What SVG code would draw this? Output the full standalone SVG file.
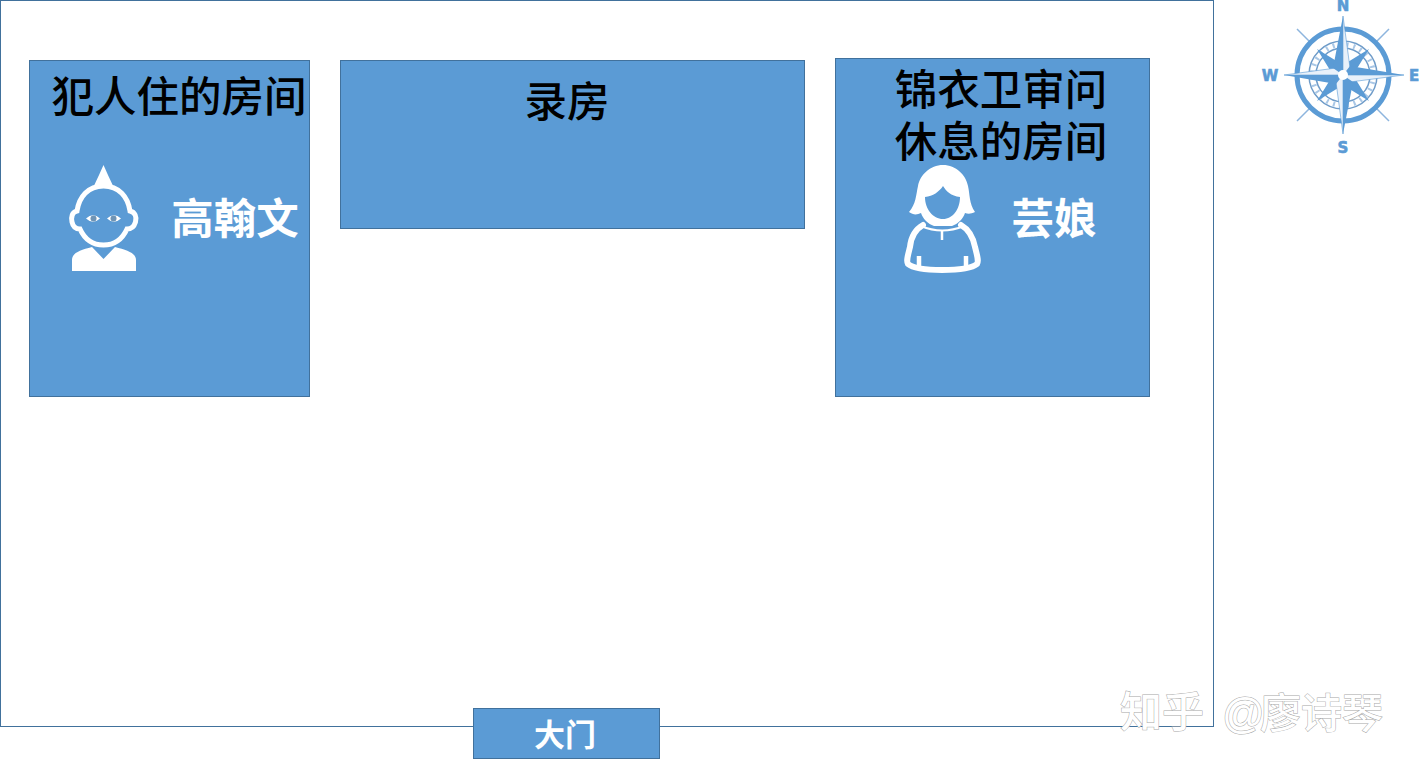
<svg xmlns="http://www.w3.org/2000/svg" width="1419" height="771" viewBox="0 0 1419 771">
<style>
.room{fill:#5b9bd5;stroke:#41719c;stroke-width:1}
.t{font-family:"Noto Sans CJK SC","Liberation Sans",sans-serif;font-size:42.500px;text-anchor:middle}
.k{fill:#000;font-weight:500}
.w{fill:#fff;font-weight:700}
.wm{font-family:"Noto Sans CJK SC","Liberation Sans",sans-serif;font-weight:500;fill:#fff;stroke:#a8a8a8;stroke-width:1;paint-order:stroke}
.cmp{font-family:"DejaVu Sans",sans-serif;font-weight:700;font-size:15px;fill:#5b9bd5;text-anchor:middle;stroke:#5b9bd5;stroke-width:.6}
</style>
<rect width="1419" height="771" fill="#fff"/>
<g id="compound"><rect x="0.5" y="0.5" width="1213" height="726" fill="#fff" stroke="#41719c"/></g>
<g id="room-prisoner">
<rect class="room" x="29.5" y="60.5" width="280" height="336"/>
<text class="t k" x="179" y="112">犯人住的房间</text>
</g>
<g id="room-records">
<rect class="room" x="340.5" y="60.5" width="464" height="168"/>
<text class="t k" x="567" y="117">录房</text>
</g>
<g id="room-guards">
<rect class="room" x="835.5" y="58.5" width="314" height="338"/>
<text class="t k" x="1001" y="105">锦衣卫审问</text>
<text class="t k" x="1001" y="157">休息的房间</text>
</g>
<g id="person-gao">
<path d="M103.500 165C106 171 110 179 114 188L93 188C97 179 101 171 103.500 165Z" fill="#fff"/>
<path d="M103.500 186C88 186 79 197 77 211C72 212 71 217 72 222C73 227 76 229 80 229C85 240 93 245 103.500 245C114 245 122 240 127 229C131 229 134 227 135.500 222C137 217 135 212 130 211C128 197 119 186 103.500 186Z" fill="none" stroke="#fff" stroke-width="5"/>
<path d="M86 218.500Q93 212 100 218.500Q93 225 86 218.500ZM107 218.500Q114 212 121 218.500Q114 225 107 218.500Z" fill="#fff"/>
<circle cx="93.500" cy="218.500" r="3" fill="#6f94b5"/><circle cx="113.500" cy="218.500" r="3" fill="#6f94b5"/>
<path d="M72 271L72 260C72 253 80 250 92 247L103.500 259L115 247C127 250 136 253 136 260L136 271Z" fill="#fff"/>
<text class="t w" x="235" y="234">高翰文</text>
</g>
<g id="person-yun">
<path fill-rule="evenodd" fill="#fff" d="M943 165C956 165 966 175 968 186C970 195 969 203 975 212C971 214 968 214 965 213C963 219 958 224 952 226L934 226C928 224 923 219 921 213C917 215 913 215 909 212C916 204 916 195 918 186C920 175 930 165 943 165ZM925 197C925 209 933 219 943 219C953 219 960 209 960 197C951 196 946 191 943 186C939 192 933 196 925 197Z"/>
<path d="M923 225C916 229 911 237 910 247C908 255 906 261 908 264C914 269 928 270 942 270C956 270 971 269 977 264C979 261 977 255 975 247C973 237 968 229 961 225" fill="none" stroke="#fff" stroke-width="6" stroke-linejoin="round" stroke-linecap="round"/>
<path d="M921 226Q942 235 964 226" fill="none" stroke="#fff" stroke-width="2"/>
<path d="M942 231V240" stroke="#fff" stroke-width="2.500"/>
<path d="M919 256V266M966 256V266" stroke="#fff" stroke-width="4.500"/>
<text class="t w" x="1054" y="234">芸娘</text>
</g>
<g id="door">
<rect class="room" x="473.500" y="708.500" width="186" height="50"/>
<text class="t w" x="565" y="746" style="font-size:31px">大门</text>
</g>
<g id="compass">
<path d="M1297 29L1389 121M1389 29L1297 121" stroke="#8db5de" stroke-width="1.500"/>
<circle cx="1343" cy="75" r="46" fill="#fff" stroke="#5b9bd5" stroke-width="5"/>
<circle cx="1343" cy="75" r="34" fill="none" stroke="#6f9cc9" stroke-width="1.500"/>
<circle cx="1343" cy="75" r="27" fill="none" stroke="#6f9cc9" stroke-width="1.500"/>
<circle cx="1343" cy="75" r="30.500" fill="none" stroke="#a9c7e6" stroke-width="5" stroke-dasharray="2 5"/>
<path d="M1343 65L1317 49L1333 75L1317 101L1343 85L1369 101L1353 75L1369 49Z" fill="#5b9bd5"/>
<path d="M1343 16L1350 68L1343 75ZM1343 134L1336 82L1343 75ZM1284 75L1336 68L1343 75ZM1404 75L1350 82L1343 75Z" fill="#e9f1fa" stroke="#5b9bd5" stroke-width=".6"/>
<path d="M1343 16L1333 68L1343 75ZM1343 134L1353 82L1343 75ZM1284 75L1336 84L1343 75ZM1404 75L1350 66L1343 75Z" fill="#5b9bd5"/>
<circle cx="1343" cy="75" r="5" fill="#fff"/>
<text class="cmp" x="1343" y="11">N</text>
<text class="cmp" x="1343" y="153">S</text>
<text class="cmp" x="1270" y="81">W</text>
<text class="cmp" x="1414" y="81">E</text>
</g>
<g id="watermark">
<text class="wm" x="1120" y="727" style="font-size:42px">知乎</text>
<text class="wm" x="1222" y="728" style="font-family:'Liberation Sans',sans-serif;font-size:42px">@</text>
<text class="wm" x="1260" y="728" style="font-size:41px">廖诗琴</text>
</g>
</svg>
